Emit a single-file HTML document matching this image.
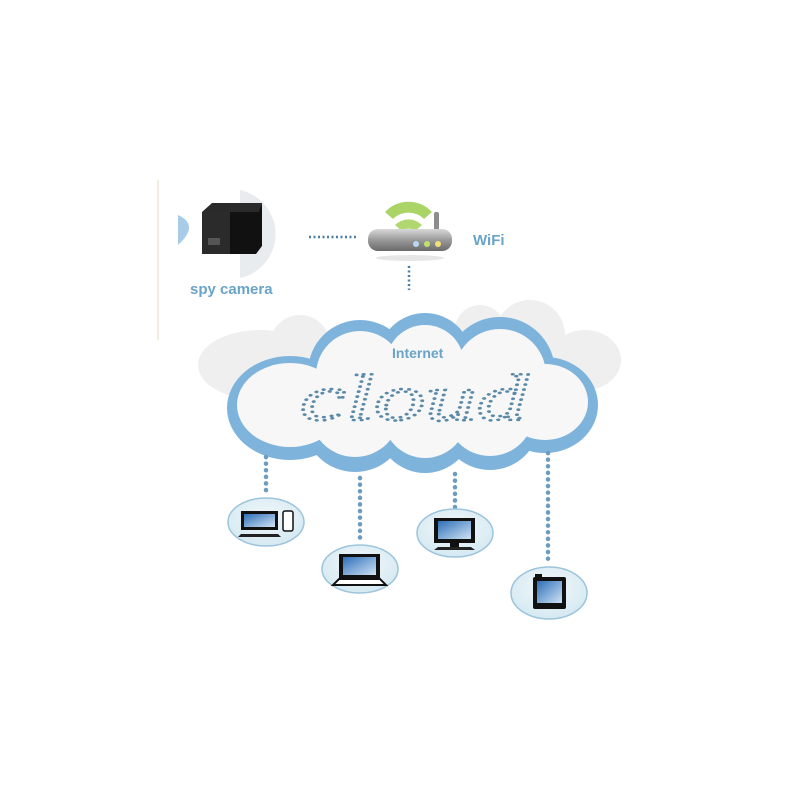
<!DOCTYPE html>
<html><head><meta charset="utf-8"><style>
html,body{margin:0;padding:0;background:#fff;width:800px;height:800px;overflow:hidden}
</style></head><body>
<svg width="800" height="800" viewBox="0 0 800 800" xmlns="http://www.w3.org/2000/svg">
<defs>
<linearGradient id="scr" x1="0" y1="0" x2="1" y2="1"><stop offset="0" stop-color="#2f6fb8"/><stop offset="1" stop-color="#cfe3f5"/></linearGradient>
<linearGradient id="rt" x1="0" y1="0" x2="0" y2="1"><stop offset="0" stop-color="#d8d8d8"/><stop offset="0.5" stop-color="#9a9a9a"/><stop offset="1" stop-color="#6a6a6a"/></linearGradient>
<radialGradient id="ell" cx="0.5" cy="0.4" r="0.6"><stop offset="0" stop-color="#f2f8fb"/><stop offset="1" stop-color="#d5e9f1"/></radialGradient>
</defs>
<line x1="158" y1="180" x2="158" y2="340" stroke="#f3ece0" stroke-width="2"/>
<!-- camera -->
<path d="M240 190 A45 45 0 0 1 240 278 Z" fill="#e9ecef"/>
<path d="M178 215 Q200 225 178 245 Z" fill="#a8cce8"/>
<polygon points="202,212 212,203 262,203 258,212" fill="#2a2a2a"/>
<rect x="202" y="212" width="28" height="42" fill="#2b2b2b"/>
<polygon points="230,212 258,212 262,203 262,246 256,254 230,254" fill="#111"/>
<rect x="208" y="238" width="12" height="7" fill="#555"/>
<text x="190" y="294" font-family="Liberation Sans, sans-serif" font-weight="bold" font-size="15" fill="#6aa3c8">spy camera</text>
<line x1="309" y1="237" x2="357" y2="237" stroke="#4a7da6" stroke-width="2.5" stroke-dasharray="2 2.5"/>
<!-- router -->
<path d="M385 212 A32 32 0 0 1 432 212 L424 219 A22 22 0 0 0 393 219 Z" fill="#9ccd4c" opacity="0.85"/>
<path d="M395 225 A19 19 0 0 1 422 225 L415 231 A10 10 0 0 0 402 231 Z" fill="#9ccd4c" opacity="0.8"/>
<rect x="434" y="212" width="5" height="22" rx="2" fill="#8d8d8d"/>
<rect x="368" y="229" width="84" height="22" rx="10" fill="url(#rt)"/>
<ellipse cx="410" cy="258" rx="34" ry="3" fill="#e6e6e6"/>
<circle cx="416" cy="244" r="3" fill="#b9d7f0"/>
<circle cx="427" cy="244" r="3" fill="#bde06a"/>
<circle cx="438" cy="244" r="3" fill="#f0e07a"/>
<text x="473" y="245" font-family="Liberation Sans, sans-serif" font-weight="bold" font-size="15" fill="#6aa3c8">WiFi</text>
<line x1="409" y1="266" x2="409" y2="290" stroke="#4a7da6" stroke-width="2.5" stroke-dasharray="2 2.5"/>
<!-- gray back cloud -->
<g fill="#efefef">
<ellipse cx="260" cy="365" rx="62" ry="35"/><circle cx="300" cy="345" r="30"/><circle cx="530" cy="335" r="35"/><ellipse cx="585" cy="360" rx="36" ry="30"/><circle cx="480" cy="330" r="25"/>
</g>
<!-- blue cloud -->
<g fill="#7eb3dc">
<ellipse cx="290" cy="408" rx="63" ry="52"/><circle cx="360" cy="372" r="52"/><circle cx="425" cy="360" r="47"/><circle cx="500" cy="372" r="55"/><ellipse cx="545" cy="405" rx="53" ry="48"/>
<circle cx="355" cy="420" r="52"/><circle cx="425" cy="425" r="48"/><circle cx="490" cy="420" r="50"/>
</g>
<g fill="#f7f7f7">
<ellipse cx="290" cy="405" rx="53" ry="42"/><circle cx="360" cy="375" r="44"/><circle cx="425" cy="364" r="39"/><circle cx="500" cy="375" r="46"/><ellipse cx="545" cy="402" rx="43" ry="38"/>
<circle cx="355" cy="412" r="45"/><circle cx="425" cy="416" r="42"/><circle cx="490" cy="412" r="44"/>
</g>
<text x="392" y="358" font-family="Liberation Sans, sans-serif" font-weight="bold" font-size="14" fill="#6aa3c8">Internet</text>
<text x="300" y="420" textLength="228" lengthAdjust="spacingAndGlyphs" font-family="Liberation Serif, serif" font-style="italic" font-size="66" fill="none" stroke="#5a8aa8" stroke-width="2.6" stroke-linecap="round" stroke-dasharray="0.1 5">cloud</text>
<!-- connectors -->
<g stroke="#6d9cbf" stroke-width="4.5" stroke-dasharray="0.1 6.5" stroke-linecap="round">
<line x1="266" y1="457" x2="266" y2="495"/>
<line x1="360" y1="478" x2="360" y2="540"/>
<line x1="455" y1="474" x2="455" y2="508"/>
<line x1="548" y1="453" x2="548" y2="565"/>
</g>
<g fill="url(#ell)" stroke="#9cc4dc" stroke-width="1.5">
<ellipse cx="266" cy="522" rx="38" ry="24"/>
<ellipse cx="360" cy="569" rx="38" ry="24"/>
<ellipse cx="455" cy="533" rx="38" ry="24"/>
<ellipse cx="549" cy="593" rx="38" ry="26"/>
</g>
<rect x="241" y="511" width="37" height="19" fill="#111"/><rect x="244" y="514" width="31" height="13" fill="url(#scr)"/>
<rect x="283" y="511" width="10" height="20" rx="2" fill="#fff" stroke="#111" stroke-width="1.5"/>
<polygon points="241,534 278,534 281,537 238,537" fill="#222"/>
<rect x="339" y="554" width="41" height="25" fill="#111"/><rect x="343" y="557" width="33" height="18" fill="url(#scr)"/>
<polygon points="339,579 380,579 386,585 333,585" fill="#fff" stroke="#111" stroke-width="2"/>
<rect x="434" y="518" width="41" height="25" fill="#111"/><rect x="438" y="521" width="33" height="18" fill="url(#scr)"/>
<rect x="450" y="543" width="9" height="4" fill="#111"/>
<polygon points="438,547 471,547 475,550 434,550" fill="#222"/>
<rect x="533" y="577" width="33" height="32" rx="2" fill="#111"/><rect x="537" y="581" width="25" height="22" fill="url(#scr)"/>
<rect x="535" y="574" width="7" height="4" fill="#111"/>
</svg>
</body></html>
